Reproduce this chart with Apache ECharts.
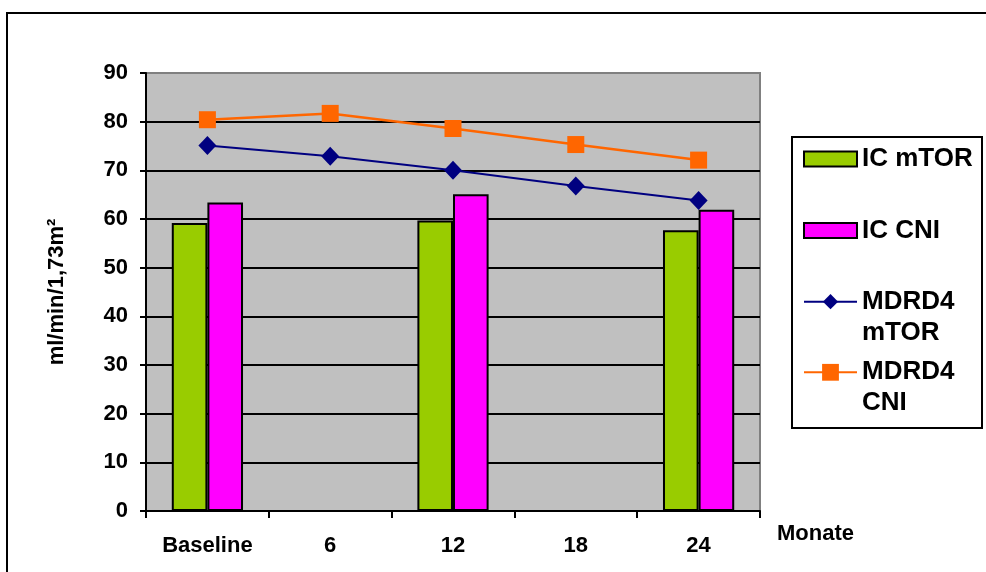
<!DOCTYPE html>
<html>
<head>
<meta charset="utf-8">
<script src="https://cdn.jsdelivr.net/npm/echarts@6/dist/echarts.min.js"></script>
<style>
  html, body { margin: 0; padding: 0; background: #fff; }
  #chart { width: 986px; height: 572px; }
</style>
</head>
<body>
<div id="chart"></div>
<script>
// Kidney function over follow-up (ml/min/1,73m²)
const categories = ['Baseline', '6', '12', '18', '24'];
const icMtor = [59.2, null, 59.7, null, 57.7];
const icCni = [63.4, null, 65.1, null, 61.9];
const mdrdMtor = [75.1, 72.9, 70.0, 66.8, 63.8];
const mdrdCni = [80.4, 81.7, 78.6, 75.3, 72.1];
const yTicks = { min: 0, max: 90, interval: 10 };

const FONT = '"Liberation Sans", Arial, sans-serif';
const boldText = (size) => ({ fontFamily: FONT, fontWeight: 'bold', fontSize: size, color: '#000' });

const chart = echarts.init(document.getElementById('chart'), null, { renderer: 'canvas' });

// One legend block per entry so each row sits where it belongs in the key box.
// Two-line names get a leading blank line so the first line lines up with the icon.
function legendEntry(name, top, itemHeight, twoLine, icon) {
  const entry = {
    data: [name],
    left: 803,
    top: top,
    orient: 'vertical',
    padding: 0,
    itemWidth: 53,
    itemHeight: itemHeight,
    selectedMode: false,
    formatter: (n) => twoLine ? '\n' + n.replace(' ', '\n') : n,
    textStyle: Object.assign(boldText(26), { lineHeight: 31 })
  };
  if (icon) entry.icon = icon;
  return entry;
}

chart.setOption({
  animation: false,
  backgroundColor: '#fff',
  graphic: [
    { type: 'rect', shape: { x: 7, y: 13, width: 1100, height: 700 },
      style: { fill: 'none', stroke: '#000', lineWidth: 2 }, z: -1 },
    { type: 'rect', shape: { x: 792, y: 137, width: 190, height: 291 },
      style: { fill: 'none', stroke: '#000', lineWidth: 2 }, z: -1 }
  ],
  grid: {
    left: 146, top: 73, right: 226, bottom: 61,
    show: true, backgroundColor: '#C0C0C0', borderColor: '#808080', borderWidth: 2
  },
  legend: [
    legendEntry('IC mTOR', 159 - 15.5, 15, false, 'rect'),
    legendEntry('IC CNI', 230.5 - 15.5, 15, false, 'rect'),
    legendEntry('MDRD4 mTOR', 301.7 - 46.5, 19, true),
    legendEntry('MDRD4 CNI', 372.3 - 46.5, 21, true)
  ],
  xAxis: {
    type: 'category',
    data: categories,
    boundaryGap: true,
    name: 'Monate',
    nameLocation: 'end',
    nameGap: 17,
    nameTextStyle: Object.assign(boldText(22), { verticalAlign: 'top', lineHeight: 46 }),
    axisLine: { show: true, lineStyle: { color: '#000', width: 2 } },
    axisTick: { show: true, length: 7, lineStyle: { color: '#000', width: 2 } },
    axisLabel: Object.assign(boldText(22), { margin: 24 }),
    splitLine: { show: false }
  },
  yAxis: {
    type: 'value',
    min: yTicks.min,
    max: yTicks.max,
    interval: yTicks.interval,
    name: 'ml/min/1,73m²',
    nameLocation: 'middle',
    nameGap: 78,
    nameTextStyle: boldText(22),
    axisLine: { show: true, lineStyle: { color: '#000', width: 2 } },
    axisTick: { show: true, length: 6, lineStyle: { color: '#000', width: 2 } },
    axisLabel: Object.assign(boldText(22), { margin: 18 }),
    splitLine: { show: true, showMaxLine: false, lineStyle: { color: '#000', width: 2 } }
  },
  series: [
    {
      name: 'IC mTOR', type: 'bar', data: icMtor,
      barGap: '0%', barCategoryGap: '42%',
      itemStyle: { color: '#99CC00', borderColor: '#000', borderWidth: 2 }
    },
    {
      name: 'IC CNI', type: 'bar', data: icCni,
      barGap: '0%', barCategoryGap: '42%',
      itemStyle: { color: '#FF00FF', borderColor: '#000', borderWidth: 2 }
    },
    {
      name: 'MDRD4 mTOR', type: 'line', data: mdrdMtor,
      symbol: 'diamond', symbolSize: [18, 19], showAllSymbol: true,
      lineStyle: { color: '#000080', width: 2 },
      itemStyle: { color: '#000080' }
    },
    {
      name: 'MDRD4 CNI', type: 'line', data: mdrdCni,
      symbol: 'rect', symbolSize: 17, showAllSymbol: true,
      lineStyle: { color: '#FF6600', width: 2.5 },
      itemStyle: { color: '#FF6600' }
    }
  ]
});
</script>
</body>
</html>
